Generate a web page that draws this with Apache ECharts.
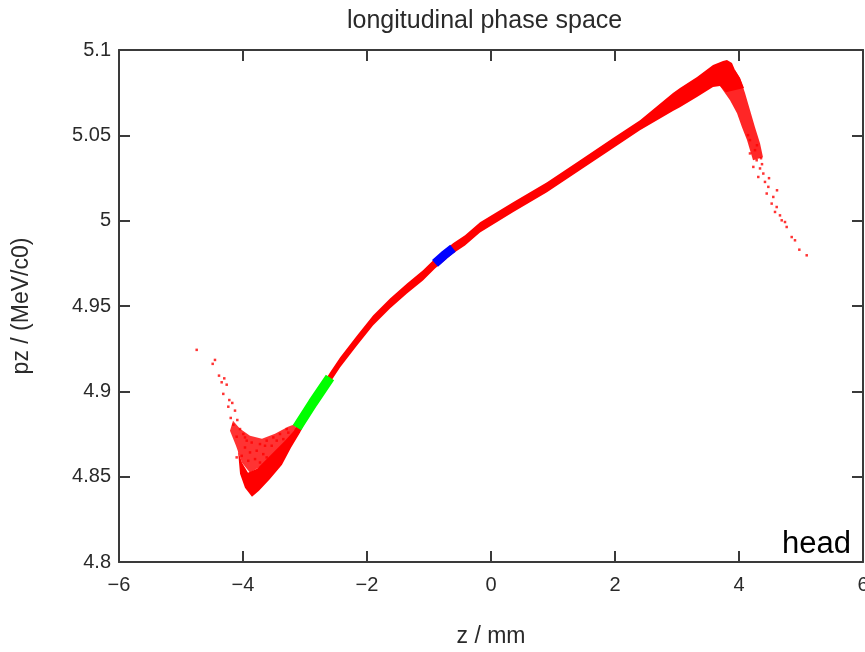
<!DOCTYPE html>
<html>
<head>
<meta charset="utf-8">
<script src="https://cdn.jsdelivr.net/npm/echarts@6/dist/echarts.min.js"></script>
<style>
  html, body { margin: 0; padding: 0; background: #fff; }
  #chart { width: 865px; height: 652px; }
</style>
</head>
<body>
<div id="chart"></div>
<script>
var dom = document.getElementById('chart');
var myChart = echarts.init(dom, null, { renderer: 'canvas' });

// axis ranges (z in mm, pz in MeV/c0)
const zRange = [-6, 6];
const pzRange = [4.8, 5.1];

// outline of the dense red core of the bunch: [z, pz]
const redBody = [
    [-4.081, 4.8652], [-4.016, 4.8581], [-3.919, 4.8523], [-3.774, 4.8546],
    [-3.645, 4.8593], [-3.484, 4.8652], [-3.323, 4.8710], [-3.177, 4.8769],
    [-3.129, 4.8810], [-2.597, 4.9110], [-2.435, 4.9198], [-2.161, 4.9327],
    [-1.903, 4.9444], [-1.629, 4.9544], [-1.355, 4.9632], [-1.097, 4.9709],
    [-0.903, 4.9779], [-0.613, 4.9867], [-0.419, 4.9914], [-0.177, 4.9990],
    [0.355, 5.0108], [0.903, 5.0225], [1.435, 5.0354], [1.968, 5.0484],
    [2.403, 5.0589], [2.935, 5.0748], [3.048, 5.0777], [3.323, 5.0842],
    [3.581, 5.0912], [3.742, 5.0935], [3.806, 5.0941], [3.887, 5.0924],
    [3.935, 5.0883], [4.016, 5.0836], [4.081, 5.0777], [3.790, 5.0753],
    [3.694, 5.0789], [3.581, 5.0783], [3.323, 5.0724], [3.048, 5.0665],
    [2.935, 5.0642], [2.403, 5.0530], [1.968, 5.0425], [1.435, 5.0295],
    [0.903, 5.0166], [0.355, 5.0049], [-0.177, 4.9931], [-0.419, 4.9855],
    [-0.613, 4.9808], [-0.903, 4.9720], [-1.097, 4.9650], [-1.355, 4.9573],
    [-1.629, 4.9485], [-1.903, 4.9386], [-2.161, 4.9268], [-2.435, 4.9139],
    [-2.597, 4.9051], [-2.919, 4.8875], [-3.081, 4.8757], [-3.226, 4.8669],
    [-3.371, 4.8570], [-3.565, 4.8487], [-3.742, 4.8417], [-3.855, 4.8382],
    [-3.968, 4.8435], [-4.048, 4.8517]
];

// outlines of the speckled (partly filled) regions
const tailCloud = [
    [-4.161, 4.8828], [-4.048, 4.8781], [-3.887, 4.8740], [-3.694, 4.8722],
    [-3.484, 4.8752], [-3.274, 4.8793], [-3.145, 4.8810], [-3.177, 4.8711],
    [-3.565, 4.8593], [-3.887, 4.8523], [-4.016, 4.8582], [-4.113, 4.8681],
    [-4.210, 4.8769]
];
const headCloud = [
    [3.935, 5.0883], [4.016, 5.0836], [4.097, 5.0748], [4.177, 5.0648],
    [4.258, 5.0548], [4.339, 5.0454], [4.387, 5.0372], [4.226, 5.0354],
    [4.129, 5.0472], [4.048, 5.0548], [3.968, 5.0630], [3.855, 5.0706],
    [3.694, 5.0789]
];

// loose particles in the tail (left) and the head (right)
const tailPoints = [
    [-4.747, 4.9243], [-4.452, 4.9184], [-4.489, 4.9161], [-4.387, 4.9092],
    [-4.302, 4.9076], [-4.344, 4.9053], [-4.263, 4.9039], [-4.318, 4.8985],
    [-4.221, 4.8949], [-4.173, 4.8932], [-4.237, 4.8910], [-4.129, 4.8887],
    [-4.198, 4.8844], [-4.092, 4.8832], [-4.156, 4.8804], [-4.048, 4.8779],
    [-3.995, 4.8750], [-4.102, 4.8734], [-3.940, 4.8711], [-3.860, 4.8700],
    [-3.726, 4.8691], [-3.618, 4.8711], [-3.511, 4.8730], [-3.403, 4.8750],
    [-3.295, 4.8779], [-3.779, 4.8652], [-3.673, 4.8632], [-3.887, 4.8642],
    [-3.968, 4.8671], [-3.537, 4.8681], [-3.456, 4.8711], [-3.350, 4.8720],
    [-3.806, 4.8603], [-3.726, 4.8583], [-3.915, 4.8593], [-3.618, 4.8613],
    [-4.021, 4.8622], [-4.102, 4.8613], [-3.968, 4.8730], [-3.645, 4.8681],
    [-3.269, 4.8758]
];
const headPoints = [
    [4.177, 5.0472], [4.258, 5.0413], [4.177, 5.0394], [4.285, 5.0354],
    [4.231, 5.0315], [4.339, 5.0306], [4.392, 5.0276], [4.311, 5.0256],
    [4.419, 5.0227], [4.473, 5.0198], [4.447, 5.0159], [4.553, 5.0139],
    [4.527, 5.0100], [4.608, 5.0080], [4.581, 5.0051], [4.661, 5.0031],
    [4.689, 5.0002], [4.742, 4.9992], [4.769, 4.9963], [4.850, 4.9904],
    [4.903, 4.9885], [4.973, 4.9830], [5.092, 4.9797], [4.145, 5.0501],
    [4.290, 5.0442], [4.355, 5.0366], [4.484, 5.0249], [4.613, 5.0178],
    [4.371, 5.0331]
];

// marked slices
const greenSlice = [[-3.129, 4.8787], [-2.871, 4.8934], [-2.597, 4.9081]];
const blueSlice = [[-0.903, 4.9750], [-0.758, 4.9797], [-0.613, 4.9838]];

const axisColor = '#3a3a3a';
const textColor = '#2a2a2a';
const font = 'Liberation Sans, Arial, sans-serif';

// draws the whole outline once, through the axis scales
function polygonItem(points, color, opacity) {
    return function (params, api) {
        if (params.dataIndex !== 0) return;
        return {
            type: 'polygon',
            shape: { points: points.map(function (p) { return api.coord(p); }) },
            style: { fill: color, opacity: opacity }
        };
    };
}

function outline(points, color, opacity) {
    return {
        type: 'custom',
        silent: true,
        data: points,
        renderItem: polygonItem(points, color, opacity)
    };
}

function frameAxis(pos) {
    return {
        type: 'value',
        position: pos,
        axisLine: { show: true, onZero: false, lineStyle: { color: axisColor, width: 2 } },
        axisTick: { show: true, inside: true, length: 11, lineStyle: { color: axisColor, width: 2 } },
        axisLabel: { show: false },
        splitLine: { show: false }
    };
}

var topAxis = frameAxis('top');
topAxis.min = zRange[0]; topAxis.max = zRange[1]; topAxis.interval = 2;
var rightAxis = frameAxis('right');
rightAxis.min = pzRange[0]; rightAxis.max = pzRange[1]; rightAxis.interval = 0.05;

var option = {
    animation: false,
    backgroundColor: '#fff',
    title: {
        text: 'longitudinal phase space',
        left: 342,
        top: 4,
        textStyle: { color: textColor, fontFamily: font, fontSize: 25, fontWeight: 'normal' }
    },
    grid: { left: 119, right: 2, top: 50, bottom: 90, containLabel: false, outerBoundsMode: 'none' },
    xAxis: [
        {
            type: 'value',
            min: zRange[0],
            max: zRange[1],
            interval: 2,
            name: 'z / mm',
            nameLocation: 'middle',
            nameGap: 63,
            nameTextStyle: { color: textColor, fontFamily: font, fontSize: 23 },
            axisLine: { show: true, onZero: false, lineStyle: { color: axisColor, width: 2 } },
            axisTick: { inside: true, length: 11, lineStyle: { color: axisColor, width: 2 } },
            axisLabel: {
                color: textColor, fontFamily: font, fontSize: 20, margin: 13,
                formatter: function (v) { return String(v).replace('-', '\u2212'); }
            },
            splitLine: { show: false }
        },
        topAxis
    ],
    yAxis: [
        {
            type: 'value',
            min: pzRange[0],
            max: pzRange[1],
            interval: 0.05,
            name: 'pz / (MeV/c0)',
            nameLocation: 'middle',
            nameRotate: 90,
            nameGap: 86,
            nameTextStyle: { color: textColor, fontFamily: font, fontSize: 23 },
            axisLine: { show: true, onZero: false, lineStyle: { color: axisColor, width: 2 } },
            axisTick: { inside: true, length: 11, lineStyle: { color: axisColor, width: 2 } },
            axisLabel: { color: textColor, fontFamily: font, fontSize: 20, margin: 8 },
            splitLine: { show: false }
        },
        rightAxis
    ],
    graphic: [
        {
            type: 'text',
            right: 14,
            top: 529,
            style: { text: 'head', fill: '#000', font: '31px Liberation Sans, Arial, sans-serif' }
        }
    ],
    series: [
        outline(tailCloud, '#ff0000', 0.8),
        outline(headCloud, '#ff0000', 0.85),
        outline(redBody, '#ff0000', 1),
        {
            type: 'scatter',
            silent: true,
            symbol: 'rect',
            symbolSize: 2.5,
            itemStyle: { color: '#ff0000' },
            data: tailPoints.concat(headPoints)
        },
        {
            type: 'line',
            silent: true,
            showSymbol: false,
            lineStyle: { color: '#00ff00', width: 10, cap: 'butt' },
            data: greenSlice
        },
        {
            type: 'line',
            silent: true,
            showSymbol: false,
            lineStyle: { color: '#0000ff', width: 9, cap: 'butt' },
            data: blueSlice
        }
    ]
};

myChart.setOption(option);
window.addEventListener('resize', myChart.resize);
</script>
</body>
</html>
